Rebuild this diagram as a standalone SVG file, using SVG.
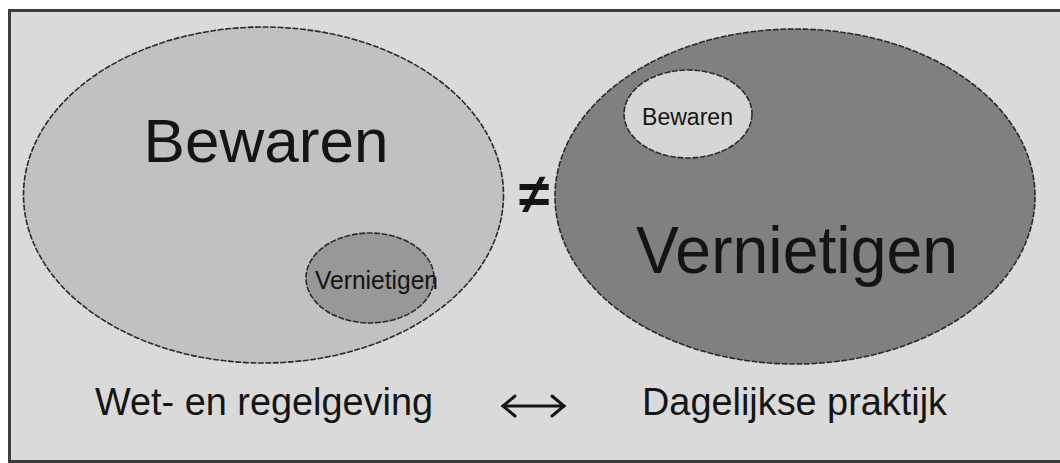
<svg xmlns="http://www.w3.org/2000/svg" width="1060" height="463" viewBox="0 0 1060 463">
<style>
text{font-family:"Liberation Sans",Arial,sans-serif;fill:#141414}
.ell{stroke:#2a2a2a;stroke-width:1.6;stroke-dasharray:6 1.5}
</style>
<rect x="0" y="0" width="1060" height="463" fill="#ffffff"/>
<rect id="frame" x="9.5" y="10.5" width="1060" height="451" fill="#dadada" stroke="#3c3c3c" stroke-width="3"/>
<g id="wet">
<ellipse class="ell" cx="263.5" cy="195" rx="240" ry="168" fill="#c1c1c1"/>
<text x="266" y="162" font-size="62" text-anchor="middle" textLength="245" lengthAdjust="spacingAndGlyphs">Bewaren</text>
</g>
<g id="wet-vernietigen">
<ellipse class="ell" cx="370" cy="278" rx="64" ry="45" fill="#989898"/>
<text x="376.5" y="289" font-size="26" text-anchor="middle" textLength="123" lengthAdjust="spacingAndGlyphs">Vernietigen</text>
</g>
<g id="praktijk">
<ellipse class="ell" cx="795" cy="196.5" rx="240" ry="167.5" fill="#808080"/>
<text x="797" y="273" font-size="67" text-anchor="middle" textLength="322" lengthAdjust="spacingAndGlyphs">Vernietigen</text>
</g>
<g id="praktijk-bewaren">
<ellipse class="ell" cx="688" cy="114" rx="64" ry="44" fill="#d6d6d6"/>
<text x="687.5" y="125" font-size="23" text-anchor="middle" textLength="91" lengthAdjust="spacingAndGlyphs">Bewaren</text>
</g>
<g id="connectors">
<text x="534" y="213" font-size="56" font-weight="bold" text-anchor="middle">≠</text>
<g stroke="#141414" stroke-width="3" fill="none" stroke-linecap="round">
<line x1="503" y1="406" x2="564" y2="406"/>
<polyline points="515,396 503,406 515,416"/>
<polyline points="552,396 564,406 552,416"/>
</g>
</g>
<text id="label-wet" x="264" y="415" font-size="38" text-anchor="middle" textLength="338" lengthAdjust="spacingAndGlyphs">Wet- en regelgeving</text>
<text id="label-praktijk" x="794.5" y="415" font-size="38" text-anchor="middle" textLength="305" lengthAdjust="spacingAndGlyphs">Dagelijkse praktijk</text>
</svg>
